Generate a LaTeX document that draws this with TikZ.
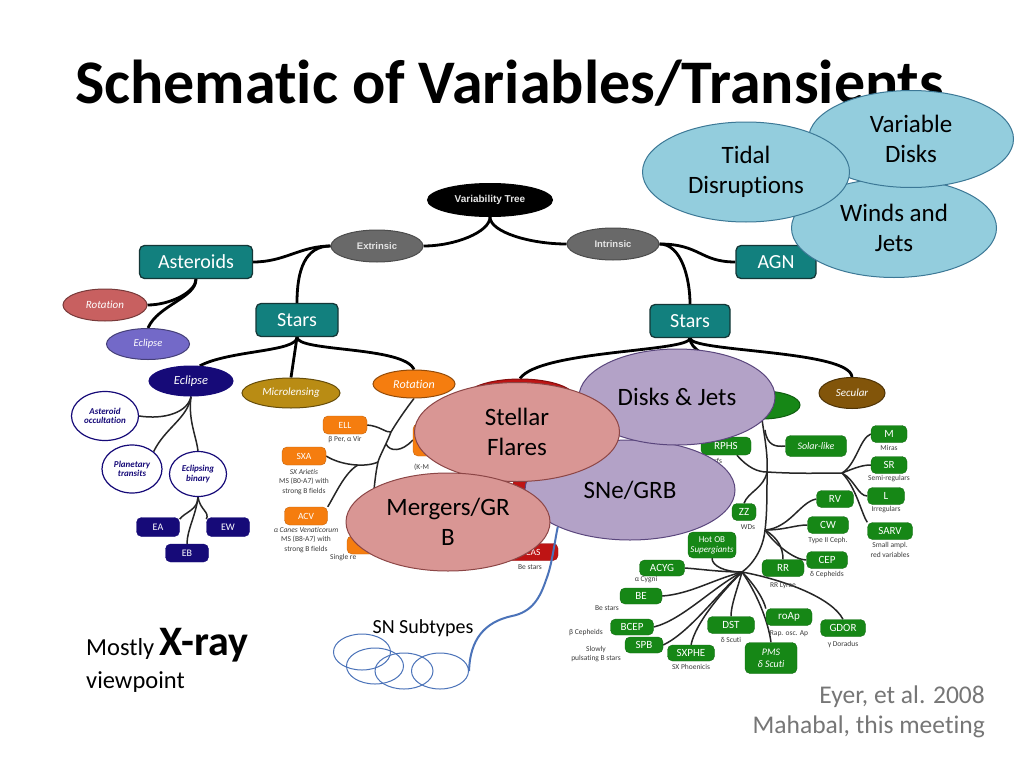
\documentclass[tikz,border=0pt]{standalone}
\usepackage{fontspec}
\setmainfont{Carlito}[Ligatures=NoCommon]
\newfontfamily\arialf{Liberation Sans}
\usetikzlibrary{shapes.geometric,backgrounds}
\definecolor{tealc}{RGB}{18,128,126}
\definecolor{tealb}{RGB}{20,55,55}
\definecolor{grayc}{RGB}{105,105,105}
\definecolor{redrot}{RGB}{200,96,96}
\definecolor{purp}{RGB}{115,105,200}
\definecolor{navy}{RGB}{22,10,120}
\definecolor{olive}{RGB}{185,140,20}
\definecolor{orng}{RGB}{245,125,15}
\definecolor{brwn}{RGB}{130,85,10}
\definecolor{grn}{RGB}{22,135,22}
\definecolor{redc}{RGB}{190,20,20}
\definecolor{pinkc}{RGB}{217,150,148}
\definecolor{pinkb}{RGB}{140,70,70}
\definecolor{lav}{RGB}{179,162,199}
\definecolor{lavb}{RGB}{90,70,125}
\definecolor{lblue}{RGB}{147,205,221}
\definecolor{lblueb}{RGB}{60,120,150}
\definecolor{snblue}{RGB}{75,115,185}
\definecolor{labg}{RGB}{60,60,60}
\definecolor{refg}{RGB}{118,118,118}
\tikzset{
  sz/.style 2 args={minimum width=#1, minimum height=#2, inner sep=0pt},
  tbox/.style={draw=tealb, fill=tealc, line width=1.3pt, rounded corners=5pt, text=white, font=\fontsize{20}{22}\selectfont},
  gell/.style={ellipse, draw=black!70, fill=grayc, line width=1pt, text=white!90!black, font=\arialf\bfseries\fontsize{9.5}{11}\selectfont},
  cell/.style={ellipse, line width=1pt, text=white, font=\itshape\fontsize{11}{13}\selectfont},
  wellp/.style={ellipse, draw=navy, fill=white, line width=1.2pt, text=navy, font=\bfseries\itshape\fontsize{9}{9.5}\selectfont, align=center},
  nbox/.style={fill=navy, draw=navy, rounded corners=5pt, text=white, font=\fontsize{10}{12}\selectfont},
  obox/.style={fill=orng, draw=orng!80!black, rounded corners=5pt, text=white, font=\fontsize{9.5}{11}\selectfont},
  rbox/.style={fill=redc, draw=redc!80!black, rounded corners=5pt, text=white, font=\fontsize{9.5}{11}\selectfont},
  gbox/.style={fill=grn, draw=grn!80!black, rounded corners=5pt, text=white, font=\fontsize{11}{12}\selectfont, align=center},
  slab/.style={text=labg, font=\fontsize{7.5}{9.5}\selectfont, align=center, inner sep=0pt},
  ovl/.style={ellipse, line width=1pt, font=\fontsize{25}{30}\selectfont, align=center, text=black},
  conn/.style={line width=2.8pt, black},
  tconn/.style={line width=1.5pt, black!85},
  snell/.style={ellipse, draw=snblue, line width=1pt, inner sep=0pt},
}
\begin{document}
\begin{tikzpicture}[x=1pt,y=-1pt]
\useasboundingbox (0,0) rectangle (1024,768);

% ---------- title
\node[anchor=base west, inner sep=0pt, font=\bfseries\fontsize{62}{70}\selectfont] (title) at (75,103) {Schematic of Variables/Transients};

% ---------- tree nodes
\node[gell, sz={125}{33}, fill=black, draw=black, font=\arialf\bfseries\fontsize{10}{12}\selectfont] (vt) at (490,200) {Variability Tree};
\node[gell, sz={92}{32}] (ext) at (377,246) {Extrinsic};
\node[gell, sz={92}{32}] (intr) at (613,244) {Intrinsic};
\node[tbox, sz={113}{33}] (ast) at (196,262) {Asteroids};
\node[tbox, sz={80}{33}] (agn) at (776,262) {AGN};
\node[tbox, sz={82}{33}] (starsl) at (297,320) {Stars};
\node[tbox, sz={80}{33}] (starsr) at (690,321) {Stars};
\node[cell, sz={84}{32}, fill=redrot, draw=redrot!60!black] (rotr) at (105,305) {Rotation};
\node[cell, sz={83}{31}, fill=purp, draw=purp!60!black, font=\itshape\fontsize{10.5}{12}\selectfont] (eclp) at (148,344) {Eclipse};
\node[cell, sz={84}{30}, fill=navy, draw=navy, font=\itshape\fontsize{12.5}{14}\selectfont] (ecln) at (191,381) {Eclipse};
\node[cell, sz={98}{30}, fill=olive, draw=olive!55!black] (micro) at (291,393) {Microlensing};
\node[cell, sz={82}{28}, fill=orng, draw=orng!60!black, font=\itshape\fontsize{12}{14}\selectfont] (roto) at (414,384) {Rotation};
\node[cell, sz={66}{31}, fill=brwn, draw=brwn!60!black] (secu) at (852,393) {Secular};
\node[ellipse, sz={110}{38}, fill=redc, draw=redc!70!black, line width=1pt] (erup) at (520,398) {};
\node[ellipse, sz={76}{28}, fill=grn, draw=grn!70!black, line width=1pt] (puls) at (762,405) {};

% eclipse subtree
\node[wellp, sz={67}{49}] (aocc) at (105,416) {Asteroid\\occultation};
\node[wellp, sz={60}{48}] (ptr) at (132,469) {Planetary\\transits};
\node[wellp, sz={57}{45}] (ebin) at (198,474) {Eclipsing\\binary};
\node[nbox, sz={43}{19}] (ea) at (158,527) {EA};
\node[nbox, sz={43}{19}] (ew) at (228,527) {EW};
\node[nbox, sz={43}{18}] (eb) at (187,553) {EB};

% rotation subtree
\node[obox, sz={44}{18}] (ell) at (345,425) {ELL};
\node[slab] (ellL) at (345,440) {β Per, α Vir};
\node[obox, sz={44}{18}] (sxa) at (304,456) {SXA};
\node[slab] (sxaL) at (304,482) {\textit{SX Arietis}\\MS (B0-A7) with\\strong B fields};
\node[obox, sz={43}{18}] (acv) at (306,516) {ACV};
\node[slab] (acvL) at (306,540) {\textit{α Canes Venaticorum}\\MS (B8-A7) with\\strong B fields};
\node[obox, sz={50}{32}] (byd) at (438,440) {};
\node[slab, anchor=west] (bydL) at (414,467) {(K-M};
\node[obox, sz={50}{18}] (fkc) at (372,545) {};
\node[slab, anchor=west] (fkcL) at (330,558) {Single re};

% red boxes
\node[rbox, sz={50}{18}] (rbx) at (537,490) {};
\node[rbox, sz={56}{17}] (gcas) at (530,552) {\phantom{G}CAS};
\node[slab] (gcasL) at (530,567) {Be stars};

% green subtree
\node[gbox, sz={61}{21}, font=\itshape\fontsize{10}{12}\selectfont] (solar) at (816,446) {Solar-like};
\node[gbox, sz={50}{18}] (rphs) at (726,446) {RPHS};
\node[slab] (rphsL) at (706,461) {Subdwarfs};
\node[gbox, sz={36}{17}] (mm) at (889,434) {M};
\node[slab] (mmL) at (889,448) {Miras};
\node[gbox, sz={36}{17}] (sr) at (889,465) {SR};
\node[slab] (srL) at (889,479) {Semi-regulars};
\node[gbox, sz={37}{17}] (ll) at (886,496) {L};
\node[slab] (llL) at (886,510) {Irregulars};
\node[gbox, sz={45}{17}] (sarv) at (890,531) {SARV};
\node[slab] (sarvL) at (890,550) {Small ampl.\\red variables};
\node[gbox, sz={37}{17}] (rv) at (835,499) {RV};
\node[gbox, sz={41}{17}] (cw) at (828,525) {CW};
\node[slab] (cwL) at (828,540) {Type II Ceph.};
\node[gbox, sz={41}{17}] (cep) at (827,560) {CEP};
\node[slab] (cepL) at (827,574) {δ Cepheids};
\node[gbox, sz={24}{17}] (zz) at (744,512) {ZZ};
\node[slab] (zzL) at (748,527) {WDs};
\node[gbox, sz={48}{26}, font=\fontsize{9}{10}\selectfont] (hotob) at (712,545) {Hot OB\\\textit{Supergiants}};
\node[gbox, sz={42}{17}] (rr) at (783,568) {RR};
\node[slab] (rrL) at (783,586) {RR Lyrae};
\node[gbox, sz={45}{16}] (acyg) at (662,568) {ACYG};
\node[slab] (acygL) at (646,580) {α Cygni};
\node[gbox, sz={42}{16}] (be) at (641,596) {BE};
\node[slab] (beL) at (607,608) {Be stars};
\node[gbox, sz={43}{16}] (bcep) at (632,627) {BCEP};
\node[slab] (bcepL) at (586,633) {β Cepheids};
\node[gbox, sz={38}{16}] (spb) at (644,645) {SPB};
\node[slab] (spbL) at (596,654) {Slowly\\pulsating B stars};
\node[gbox, sz={47}{16}] (sxphe) at (691,653) {SXPHE};
\node[slab] (sxpheL) at (691,667) {SX Phoenicis};
\node[gbox, sz={47}{17}] (dst) at (731,625) {DST};
\node[slab] (dstL) at (731,640) {δ Scuti};
\node[gbox, sz={52}{31}, font=\itshape\fontsize{10}{12}\selectfont] (pms) at (771,658) {PMS\\δ Scuti};
\node[gbox, sz={46}{17}] (roap) at (789,617) {roAp};
\node[slab] (roapL) at (789,634) {Rap. osc. Ap};
\node[gbox, sz={45}{17}] (gdor) at (843,628) {GDOR};
\node[slab] (gdorL) at (843,644) {γ Doradus};

% ---------- connectors (behind)
\begin{scope}[on background layer]
\fill[white] (0,0) rectangle (1024,768);
\draw[conn] (vt.south) .. controls (490,232) and (455,246) .. (ext.east);
\draw[conn] (vt.south) .. controls (490,232) and (530,244) .. (intr.west);
\draw[conn] (ext.west) .. controls (300,246) and (285,262) .. (ast.east);
\draw[conn] (ext.west) .. controls (305,246) and (297,270) .. (starsl.north);
\draw[conn] (intr.east) .. controls (700,244) and (700,262) .. (agn.west);
\draw[conn] (intr.east) .. controls (682,244) and (690,280) .. (starsr.north);
\draw[conn] (ast.south) .. controls (196,292) and (170,305) .. (rotr.east);
\draw[conn] (ast.south) .. controls (196,298) and (158,305) .. (eclp.north);
\draw[conn] (starsl.south) .. controls (297,352) and (230,350) .. (ecln.60);
\draw[conn] (starsl.south) -- (micro.north);
\draw[conn] (starsl.south) .. controls (297,352) and (404,346) .. (roto.north);
\draw[tconn] (ecln.south) .. controls (188,412) and (165,420) .. (aocc.east);
\draw[tconn] (ecln.south) .. controls (188,418) and (165,428) .. (ptr.north east);
\draw[tconn] (ecln.south) .. controls (188,420) and (196,435) .. (ebin.north);
\draw[tconn] (ebin.south) .. controls (198,510) and (185,512) .. (ea.20);
\draw[tconn] (ebin.south) .. controls (196,515) and (187,530) .. (eb.north);
\draw[tconn] (ebin.south) .. controls (200,510) and (210,512) .. (ew.160);
\coordinate (rt1) at (391,432);
\coordinate (rt2) at (386,444);
\coordinate (rt3) at (378,462);
\coordinate (rj) at (358,465);
\draw[tconn] (roto.south) .. controls (405,410) and (395,425) .. (rt1) .. controls (386,445) and (380,455) .. (rt3) .. controls (374,480) and (372,510) .. (fkc.north);
\draw[tconn] (ell.east) .. controls (380,426) and (386,433) .. (rt1);
\draw[tconn] (rt2) .. controls (390,452) and (402,452) .. (byd.west);
\draw[tconn] (sxa.east) .. controls (340,465) and (365,468) .. (rt3);
\draw[tconn] (acv.north east) .. controls (335,495) and (345,472) .. (rj);
\draw[conn] (starsr.south) .. controls (690,352) and (540,350) .. (erup.north);
\draw[conn] (starsr.south) .. controls (690,352) and (850,350) .. (secu.north);
\draw[conn] (starsr.south) .. controls (690,360) and (760,370) .. (puls.north);
\coordinate (gt0) at (765,430);
\coordinate (gt1) at (767,472);
\coordinate (gt2) at (765,530);
\coordinate (gh) at (742,572);
\coordinate (rh) at (842,473);
\draw[tconn] (puls.south) .. controls (765,440) and (768,455) .. (gt1) .. controls (767,495) and (767,515) .. (gt2) .. controls (763,550) and (752,565) .. (gh);
\draw[tconn] (gt0) .. controls (767,446) and (776,447) .. (solar.west);
\draw[tconn] (rphs.-40) .. controls (748,468) and (758,472) .. (gt1);
\draw[tconn] (gt1) .. controls (800,474) and (820,473) .. (rh);
\draw[tconn] (rh) .. controls (856,465) and (860,438) .. (mm.west);
\draw[tconn] (rh) .. controls (855,468) and (862,465) .. (sr.west);
\draw[tconn] (rh) .. controls (855,480) and (858,496) .. (ll.west);
\draw[tconn] (rh) .. controls (856,487) and (862,515) .. (sarv.north west);
\draw[tconn] (gt1) .. controls (764,488) and (748,492) .. (zz.north);
\draw[tconn] (gt2) .. controls (790,528) and (800,502) .. (rv.west);
\draw[tconn] (gt2) .. controls (785,530) and (795,525) .. (cw.west);
\draw[tconn] (gt2) .. controls (775,545) and (795,560) .. (cep.west);
\draw[tconn] (gt2) .. controls (778,538) and (783,548) .. (rr.north);
\draw[tconn] (gh) .. controls (725,572) and (712,566) .. (hotob.south);
\draw[tconn] (gh) .. controls (720,572) and (700,569) .. (acyg.east);
\draw[tconn] (gh) .. controls (712,580) and (690,594) .. (be.east);
\draw[tconn] (gh) .. controls (712,588) and (682,620) .. (bcep.east);
\draw[tconn] (gh) .. controls (716,595) and (690,632) .. (spb.east);
\draw[tconn] (gh) .. controls (722,592) and (696,622) .. (sxphe.north);
\draw[tconn] (gh) .. controls (737,590) and (731,605) .. (dst.north);
\draw[tconn] (gh) .. controls (756,592) and (768,620) .. (pms.north);
\draw[tconn] (gh) .. controls (755,585) and (764,600) .. (roap.160);
\draw[tconn] (gh) .. controls (785,580) and (832,598) .. (gdor.north);
\end{scope}

% ---------- overlay ellipses
\node[ovl, fill=lav, draw=lavb, sz={210}{100}] (sne) at (630,490) {SNe/GRB};
\node[ovl, fill=lav, draw=lavb, sz={196}{96}] (dj) at (677,397) {Disks \& Jets};
\node[ovl, fill=pinkc, draw=pinkb, sz={205}{99}] (sf) at (517,432) {Stellar\\Flares};
\node[ovl, fill=pinkc, draw=pinkb, sz={204}{98}] (mg) at (448,522) {Mergers/GR\\B};

\node[ovl, fill=lblue, draw=lblueb, sz={205}{99}] (wj) at (894,228) {Winds and\\Jets};
\node[ovl, fill=lblue, draw=lblueb, sz={205}{97}] (vd) at (911,139) {Variable\\Disks};
\node[ovl, fill=lblue, draw=lblueb, sz={207}{100}] (td) at (746,172) {Tidal\\Disruptions};

% ---------- SN subtypes
\node[anchor=base, inner sep=0pt, font=\fontsize{20}{24}\selectfont] (snt) at (423,633) {SN Subtypes};
\node[snell, sz={57}{36}] (sn1) at (362,652) {};
\node[snell, sz={57}{36}] (sn2) at (375,666) {};
\node[snell, sz={58}{36}] (sn3) at (404,671) {};
\node[snell, sz={57}{36}] (sn4) at (440,671) {};
\draw[snblue, line width=2pt] (sne.207) .. controls (554,545) and (552,565) .. (546,580) .. controls (540,598) and (532,612) .. (512,616) .. controls (484,622) and (470,640) .. (sn4.east);

% ---------- other texts
\node[anchor=base west, inner sep=0pt, font=\fontsize{24.5}{28}\selectfont] (mostly) at (86,655) {Mostly {\bfseries\fontsize{42}{44}\selectfont X-ray}};
\node[anchor=base west, inner sep=0pt, font=\fontsize{24.5}{28}\selectfont] (vp) at (86,688) {viewpoint};
\node[anchor=base east, inner sep=0pt, text=refg, font=\fontsize{25.5}{28}\selectfont] (eyer) at (985,703) {Eyer, et al. 2008};
\node[anchor=base east, inner sep=0pt, text=refg, font=\fontsize{25.5}{28}\selectfont] (mah) at (985,733) {Mahabal, this meeting};
\end{tikzpicture}
\end{document}
